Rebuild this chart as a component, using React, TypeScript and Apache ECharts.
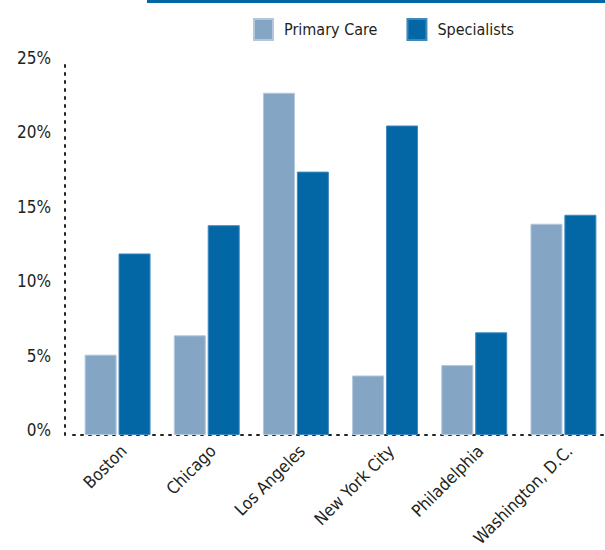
import React, { useEffect, useRef } from "react";
import * as echarts from "echarts";

const categories = ["Boston", "Chicago", "Los Angeles", "New York City", "Philadelphia", "Washington, D.C."];
const primaryCare = [5.4, 6.7, 23.0, 4.0, 4.7, 14.2];
const specialists = [12.2, 14.1, 17.7, 20.8, 6.9, 14.8];
const seriesNames = ["Primary Care", "Specialists"];

const FONT = '"Liberation Sans Narrow", "DejaVu Sans Condensed", "Arial Narrow", sans-serif';
const LIGHT = "#85a5c4";
const DARK = "#0467a5";
const TEXT = "#231f20";

export default function App() {
  const ref = useRef<HTMLDivElement>(null);
  useEffect(() => {
    document.body.style.margin = "0";
    const chart = echarts.init(ref.current!, null, { renderer: "svg" });
    chart.setOption({
      animation: false,
      backgroundColor: "#ffffff",
      textStyle: { fontFamily: FONT, color: TEXT },
      graphic: [
        { type: "rect", shape: { x: 147, y: 0, width: 458, height: 3 }, style: { fill: DARK }, silent: true },
      ],
      legend: {
        left: 253,
        top: 18,
        padding: 0,
        itemWidth: 19,
        itemHeight: 21,
        itemGap: 29,
        icon: "rect",
        textStyle: { fontFamily: FONT, fontSize: 16, color: TEXT, padding: [0, 0, 0, 6] },
        data: seriesNames,
      },
      grid: { left: 73, right: -3, top: 63, bottom: 115, containLabel: false, outerBoundsMode: "none" },
      xAxis: {
        type: "category",
        data: categories,
        axisLine: { show: true, lineStyle: { color: "#222", width: 2, type: [2, 6] } },
        axisTick: { show: false },
        axisLabel: {
          interval: 0,
          rotate: 45,
          margin: 7,
          verticalAlign: "top",
          fontFamily: FONT,
          fontSize: 17,
          color: TEXT,
        },
      },
      yAxis: {
        type: "value",
        min: 0,
        max: 25,
        interval: 5,
        offset: 8,
        axisLine: { show: true, lineStyle: { color: "#222", width: 2, type: [2, 6] } },
        axisTick: { show: false },
        splitLine: { show: false },
        axisLabel: {
          formatter: "{value}%",
          margin: 14,
          fontFamily: FONT,
          fontSize: 17,
          color: TEXT,
          verticalAlign: "bottom",
          lineHeight: 10,
        },
      },
      series: [
        {
          name: seriesNames[0],
          type: "bar",
          data: primaryCare,
          barWidth: 32,
          barGap: "6%",
          itemStyle: { color: LIGHT, borderColor: "#b4c8dc", borderWidth: 1 },
        },
        {
          name: seriesNames[1],
          type: "bar",
          data: specialists,
          barWidth: 32,
          itemStyle: { color: DARK, borderColor: "#3f88bd", borderWidth: 1 },
        },
      ],
    });
    return () => chart.dispose();
  }, []);
  return <div ref={ref} style={{ position: "fixed", left: 0, top: 0, width: 605, height: 550 }} />;
}
